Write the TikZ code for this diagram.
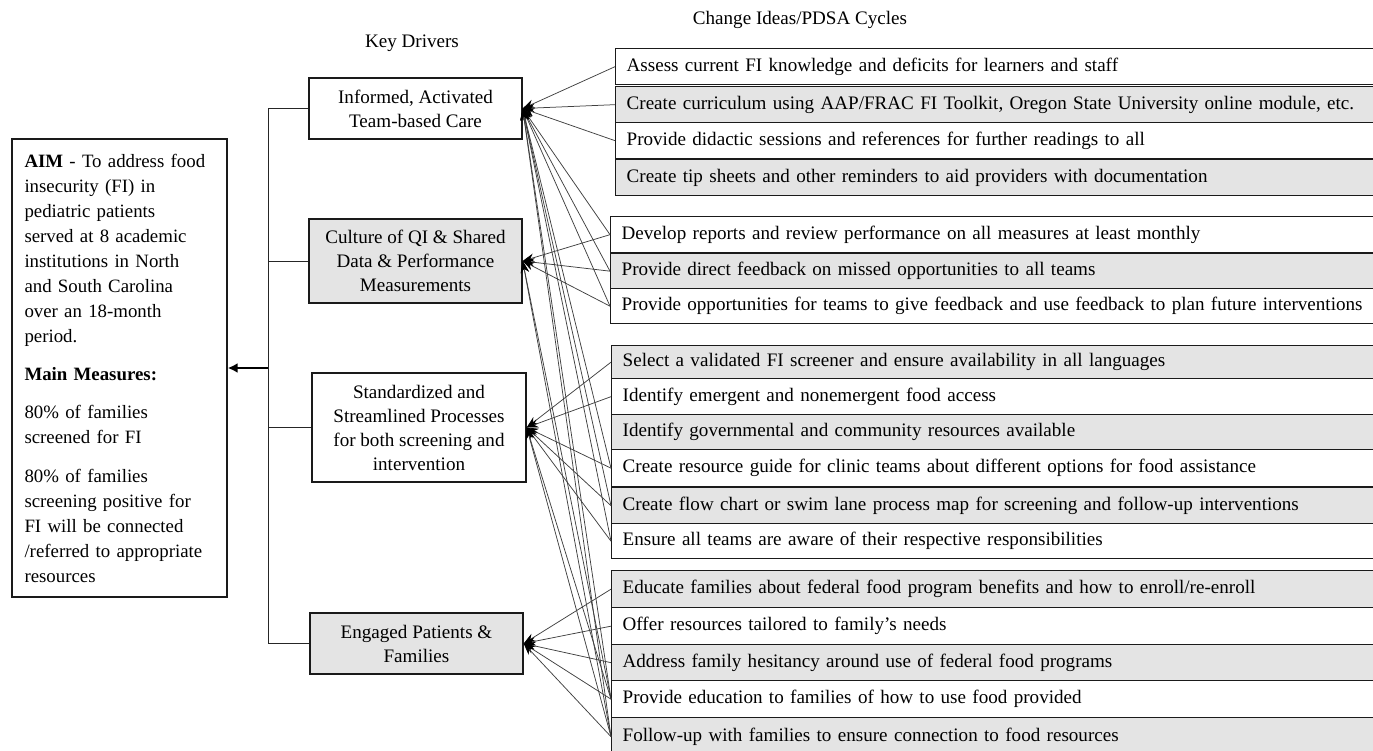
\documentclass[tikz,border=0pt]{standalone}
\usepackage{fontspec}
\setmainfont{Liberation Serif}
\usetikzlibrary{arrows.meta}
\definecolor{boxgrey}{HTML}{E4E4E4}
\definecolor{edgecol}{HTML}{1A1A1A}
\begin{document}
\begin{tikzpicture}[x=0.6pt,y=-0.6pt,
  every node/.style={font=\fontsize{11.45}{14.4}\selectfont},
  cbox/.style={draw=edgecol, line width=0.8pt, anchor=north west, inner xsep=6.6pt, inner ysep=1pt, text width=460pt, align=left},
  drv/.style={draw=edgecol, line width=0.8pt, align=center, inner sep=2pt},
  conn/.style={draw=black!75, line width=0.45pt, -{Stealth[length=7pt,width=5pt,black]}},
  spine/.style={draw=black!85, line width=0.6pt},
  aimarrow/.style={draw=black, line width=1.5pt, -{Latex[length=6pt,width=6pt]}},
  header/.style={inner sep=0pt}
]
\useasboundingbox (0,0) rectangle (1373,751);

% headers
\node[header] (hcd) at (800,20) {Change Ideas/PDSA Cycles};
\node[header] (hkd) at (412,43) {Key Drivers};

% aim box
\node[draw=edgecol, line width=0.8pt, minimum width=129pt, minimum height=274.8pt,
      inner xsep=7.2pt, align=left, text width=114pt,
      font=\fontsize{11.3}{15}\selectfont] (aim) at (119.5,368)
{\textbf{AIM} - To address food\\ insecurity (FI) in\\ pediatric patients\\ served at 8 academic\\ institutions in North\\ and South Carolina\\ over an 18-month\\ period.\\[8pt]
\textbf{Main Measures:}\\[8pt]
80\% of families\\ screened for FI\\[8pt]
80\% of families\\ screening positive for\\ FI will be connected\\ /referred to appropriate\\ resources};

% drivers
\node[drv, minimum width=127.8pt, minimum height=36.6pt] (d1) at (415.5,108.5) {Informed, Activated\\Team-based Care};
\node[drv, fill=boxgrey, minimum width=127.8pt, minimum height=50.4pt] (d2) at (415.5,261) {Culture of QI \& Shared\\Data \& Performance\\Measurements};
\node[drv, minimum width=128.4pt, minimum height=65.4pt] (d3) at (419,427.5) {Standardized and\\Streamlined Processes\\for both screening and\\intervention};
\node[drv, fill=boxgrey, minimum width=127.8pt, minimum height=36.6pt] (d4) at (416.5,643.5) {Engaged Patients \&\\Families};

% spine
\coordinate (spt) at (268,108.5);
\coordinate (spb) at (268,643.5);
\draw[spine] (spt) -- (spb);
\draw[spine] (spt) -- (d1.west);
\draw[spine] (d2.west -| spt) -- (d2.west);
\draw[spine] (d3.west -| spt) -- (d3.west);
\draw[spine] (spb) -- (d4.west);
\draw[aimarrow] (spt |- aim.east) -- (aim.east);

% change ideas
\node[cbox, minimum height=36*0.6pt] (c1) at (615,48) {Assess current FI knowledge and deficits for learners and staff};
\node[cbox, fill=boxgrey, minimum height=36*0.6pt] (c2) at (615,86) {Create curriculum using AAP/FRAC FI Toolkit, Oregon State University online module, etc.};
\node[cbox, minimum height=36*0.6pt] (c3) at (615,122) {Provide didactic sessions and references for further readings to all};
\node[cbox, fill=boxgrey, minimum height=36*0.6pt] (c4) at (615,159) {Create tip sheets and other reminders to aid providers with documentation};

\node[cbox, minimum height=36*0.6pt] (c5) at (610,216) {Develop reports and review performance on all measures at least monthly};
\node[cbox, fill=boxgrey, minimum height=35*0.6pt] (c6) at (610,253) {Provide direct feedback on missed opportunities to all teams};
\node[cbox, minimum height=35*0.6pt] (c7) at (610,288) {Provide opportunities for teams to give feedback and use feedback to plan future interventions};

\node[cbox, fill=boxgrey, minimum height=33*0.6pt] (c8) at (611,345) {Select a validated FI screener and ensure availability in all languages};
\node[cbox, minimum height=36*0.6pt] (c9) at (611,378) {Identify emergent and nonemergent food access};
\node[cbox, fill=boxgrey, minimum height=35*0.6pt] (c10) at (611,414) {Identify governmental and community resources available};
\node[cbox, minimum height=37*0.6pt] (c11) at (611,449) {Create resource guide for clinic teams about different options for food assistance};
\node[cbox, fill=boxgrey, minimum height=36*0.6pt] (c12) at (611,487) {Create flow chart or swim lane process map for screening and follow-up interventions};
\node[cbox, minimum height=35*0.6pt] (c13) at (611,523) {Ensure all teams are aware of their respective responsibilities};

\node[cbox, fill=boxgrey, minimum height=37*0.6pt] (c14) at (611,570) {Educate families about federal food program benefits and how to enroll/re-enroll};
\node[cbox, minimum height=37*0.6pt] (c15) at (611,607) {Offer resources tailored to family's needs};
\node[cbox, fill=boxgrey, minimum height=36*0.6pt] (c16) at (611,644) {Address family hesitancy around use of federal food programs};
\node[cbox, minimum height=37*0.6pt] (c17) at (611,680) {Provide education to families of how to use food provided};
\node[cbox, fill=boxgrey, minimum height=38*0.6pt] (c18) at (611,717) {Follow-up with families to ensure connection to food resources};

% connectors
\foreach \c in {c1,c2,c3,c5,c6,c7,c11,c12,c13,c17,c18}
  \draw[conn] (\c.west) -- (d1.east);
\foreach \c in {c5,c6,c7,c17,c18}
  \draw[conn] (\c.west) -- (d2.east);
\foreach \c in {c8,c9,c11,c12,c13,c17,c18}
  \draw[conn] (\c.west) -- (d3.east);
\foreach \c in {c14,c15,c16,c17,c18}
  \draw[conn] (\c.west) -- (d4.east);
\end{tikzpicture}
\end{document}
